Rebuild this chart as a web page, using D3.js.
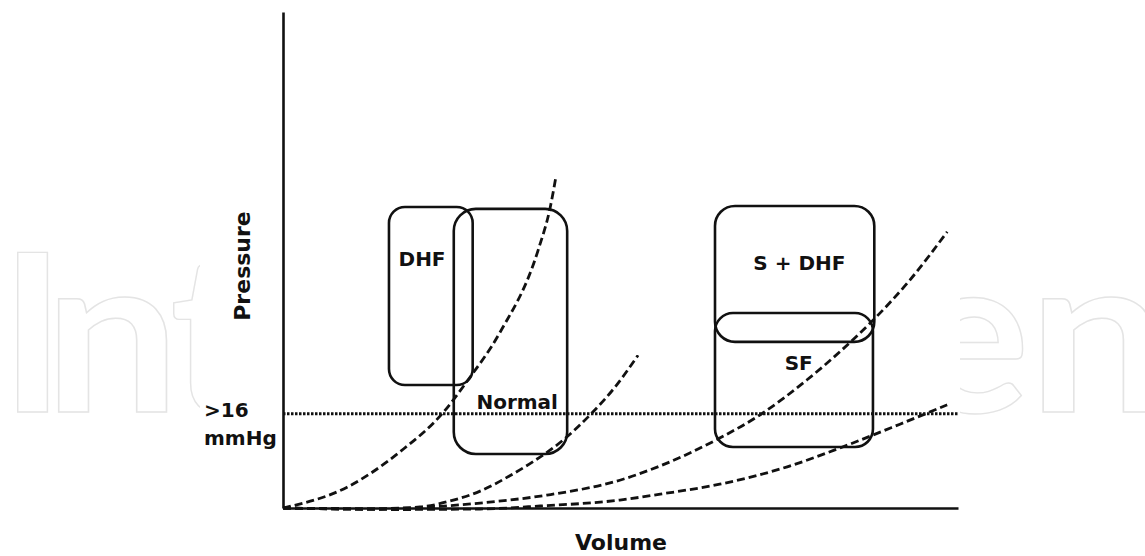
<!DOCTYPE html>
<html>
<head>
<meta charset="utf-8">
<script src="https://cdn.jsdelivr.net/npm/d3@7"></script>
<style>
  html, body { margin: 0; padding: 0; background: #fff; }
  svg { display: block; }
  text { font-family: "DejaVu Sans", Verdana, sans-serif; font-weight: bold; fill: #111; }
</style>
</head>
<body>
<svg id="chart" width="1145" height="556"></svg>
<script>
// ---------------- data (volume 0-100, pressure 0-100, arbitrary units) ----------------
const curveNames = ["curve1", "curve2", "curve3", "curve4"];
const curve1 = [[0,0],[9.5,4.2],[17.3,11.3],[23.7,19.2],[27.4,25.8],[32.1,35.3],[37.8,52.0],[39.6,60.7],[40.4,66.5]];
const curve2 = [[0,0],[11.4,-0.2],[20.3,0.2],[24.7,1.4],[29.2,3.4],[33.6,6.5],[37.0,9.3],[41.5,13.7],[45.8,19.2],[49.2,24.4],[52.6,30.8]];
const curve3 = [[0,0],[14.4,-0.2],[21.8,0.2],[29.2,1.0],[39.1,2.6],[49.9,5.6],[55.9,8.5],[64.7,14.1],[70.7,18.8],[77.6,25.8],[82.5,31.5],[87.0,37.3],[92.9,46.0],[98.4,55.7]];
const curve4 = [[0,0],[17.3,-0.3],[29.2,-0.2],[38.1,0.4],[49.9,1.6],[55.9,2.8],[64.7,4.8],[74.7,8.3],[82.5,12.1],[91.4,16.9],[98.4,20.8]];
const curves = [curve1, curve2, curve3, curve4];

const thresholdPressure = 19;          // ">16 mmHg" line
const thresholdLabel = [">16", "mmHg"];

// regions: [volumeMin, volumeMax, pressureMin, pressureMax]
const regionNames = ["DHF", "Normal", "S + DHF", "SF"];
const regionExtents = [
  [15.7, 28.1, 24.8, 60.7],
  [25.3, 42.1, 10.9, 60.3],
  [64.0, 87.6, 33.5, 60.9],
  [64.0, 87.4, 12.3, 39.3]
];
// label anchor (volume, pressure) for each region
const regionLabelAt = [[20.6, 48.8], [34.7, 20.0], [76.5, 48.0], [76.4, 27.8]];

const xTitle = "Volume";
const yTitle = "Pressure";
const watermarkLetters = ["I", "n", "t", "e", "n"];

// ---------------- drawing ----------------
const svg = d3.select("#chart");
const W = 1145, H = 556;

const x = d3.scaleLinear().domain([0, 100]).range([283, 958]);
const y = d3.scaleLinear().domain([0, 100]).range([508, 12]);

// faint watermark (partly hidden behind the chart's white panel)
const wmX = [0, 44, 170, 912, 1028];
const wmLen = [null, 136, null, null, 140];
const wm = svg.append("g");
wm.selectAll("text").data(watermarkLetters).join("text")
  .attr("x", (d, i) => wmX[i]).attr("y", 412)
  .each(function (d, i) {
    if (wmLen[i]) d3.select(this).attr("textLength", wmLen[i]).attr("lengthAdjust", "spacingAndGlyphs");
  })
  .style("font-family", "Lato, 'Open Sans', sans-serif")
  .style("font-weight", "bold")
  .style("font-size", "220px")
  .style("fill", "#fff")
  .style("stroke", "#e4e4e4")
  .style("stroke-width", 1.4)
  .text(d => d);
svg.append("rect").attr("x", 200).attr("y", 0).attr("width", 760).attr("height", H).attr("fill", "#fff");

// axes
const xAxis = d3.axisBottom(x).tickValues([]).tickSizeOuter(0);
const yAxis = d3.axisLeft(y).tickValues([]).tickSizeOuter(0);
svg.append("g").attr("transform", `translate(0,${y(0)})`).call(xAxis)
  .select(".domain").attr("stroke", "#111").attr("stroke-width", 2.6);
svg.append("g").attr("transform", `translate(${x(0)},0)`).call(yAxis)
  .select(".domain").attr("stroke", "#111").attr("stroke-width", 2.6);

// threshold dotted line
svg.append("line")
  .attr("x1", x(0)).attr("x2", x(100))
  .attr("y1", y(thresholdPressure)).attr("y2", y(thresholdPressure))
  .attr("stroke", "#111").attr("stroke-width", 3).attr("stroke-dasharray", "2.5,1.5");

// region boxes
const radii = [16, 22, 20, 18];
svg.append("g").selectAll("rect").data(regionExtents).join("rect")
  .attr("x", d => x(d[0]))
  .attr("y", d => y(d[3]))
  .attr("width", d => x(d[1]) - x(d[0]))
  .attr("height", d => y(d[2]) - y(d[3]))
  .attr("rx", (d, i) => radii[i]).attr("ry", (d, i) => radii[i])
  .attr("fill", "none").attr("stroke", "#111").attr("stroke-width", 2.6);

// curves
const line = d3.line().x(d => x(d[0])).y(d => y(d[1])).curve(d3.curveMonotoneX);
svg.append("g").selectAll("path").data(curves).join("path")
  .attr("d", line)
  .attr("fill", "none").attr("stroke", "#111").attr("stroke-width", 2.8)
  .attr("stroke-dasharray", "8,4");

// region labels
svg.append("g").selectAll("text").data(regionNames).join("text")
  .attr("x", (d, i) => x(regionLabelAt[i][0]))
  .attr("y", (d, i) => y(regionLabelAt[i][1]))
  .attr("text-anchor", "middle")
  .style("font-size", "20px")
  .text(d => d);

// threshold label
svg.append("g").selectAll("text").data(thresholdLabel).join("text")
  .attr("x", 204)
  .attr("y", (d, i) => y(thresholdPressure) + 3 + i * 28)
  .style("font-size", "20px")
  .text(d => d);

// axis titles
svg.append("text").attr("x", 621).attr("y", 550).attr("text-anchor", "middle")
  .style("font-size", "22px").text(xTitle);
svg.append("text").attr("transform", "translate(250,266) rotate(-90)").attr("text-anchor", "middle")
  .style("font-size", "22px").text(yTitle);
</script>
</body>
</html>
